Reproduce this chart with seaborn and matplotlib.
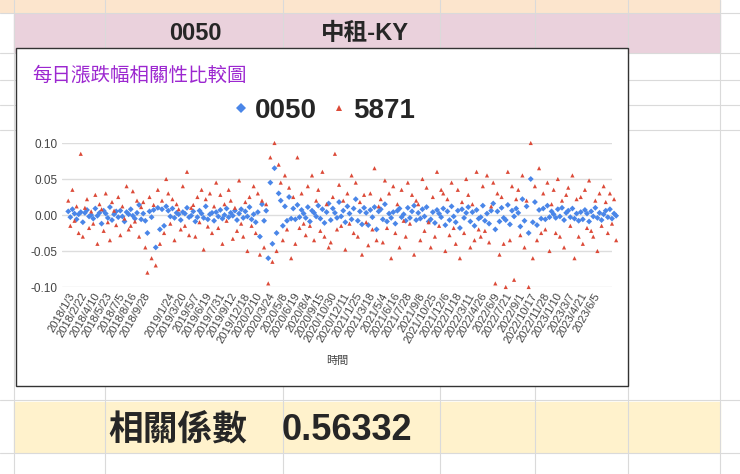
import numpy as np
import pandas as pd
import matplotlib
matplotlib.use("Agg")
import matplotlib.pyplot as plt
from matplotlib.patches import Rectangle
import seaborn as sns

tick_labels = ["2018/1/3","2018/2/22","2018/4/10","2018/5/23","2018/7/5","2018/8/16","2018/9/28","",
 "2019/1/24","2019/3/20","2019/5/7","2019/6/19","2019/7/31","2019/9/12","2019/12/18","2020/2/10","2020/3/24",
 "2020/5/8","2020/6/19","2020/8/4","2020/9/15","2020/10/30","2020/12/11","2021/1/25","2021/3/18","2021/5/4",
 "2021/6/16","2021/7/28","2021/9/8","2021/10/25","2021/12/6","2022/1/18","2022/3/11","2022/4/26","2022/6/9",
 "2022/7/21","2022/9/1","2022/10/17","2022/11/28","2023/1/10","2023/3/7","2023/4/21","2023/6/5"]

# daily returns in thousandths
s0050 = [5,-3,8,2,-6,1, 4,-10,3,7,-2,0, -5,9,-1,3,-12,6, 2,-4,11,-7,1,5, -3,6,-2,-9,4,1, 8,-1,-5,3,14,-6, 2,-8,-25,5,-3,7,
 -45,10,-20,8,-15,12,
 6,-2,9,-4,3,1, -7,4,2,10,-3,-1, 5,-9,-3,6,2,-4, 12,-6,1,3,-8,4, -2,7,-5,0,9,-3, 3,-1,6,-7,2,8, -4,5,-2,11,-6,1,
 -10,4,-30,15,-8,6, -60,45,-40,65,-25,30, 20,-15,12,-8,25,-5, 9,-6,14,-3,7,2, -4,11,-9,6,3,-2,
 13,-5,8,-11,4,16, -7,9,3,-4,18,-2, 6,-10,12,2,-6,9, 22,-8,5,-13,10,3, -14,7,-3,11,-20,5, 8,-6,15,-9,2,-4, 4,-12,6,9,-3,1,
 -8,10,-4,5,13,-7, 3,-5,8,-2,11,-9, -6,4,-11,7,2,-3, 9,-14,5,-7,12,-2, -10,6,-18,8,-4,3, 11,-9,4,-15,7,-5, -3,13,-8,2,-12,6,
 16,-20,5,-9,10,-4, -7,14,-13,6,-2,9, 3,-16,22,-8,12,-25, 50,-10,18,-14,7,-5, 9,-6,13,-3,5,1, -4,8,-2,10,-7,3, 6,-3,9,-5,2,-8,
 4,-6,7,2,-9,5, -2,10,-4,3,-7,1, 6,-3,8,-5,2,-1]
s5871 = [20,-15,35,-8,12,-25, 85,-30,10,22,-18,5, -12,28,-40,15,8,-22, 30,-10,-35,18,6,-14, 25,-28,12,-5,40,-20, -15,33,-9,20,-30,11, 18,-45,-80,25,-60,14,
 -70,35,-40,20,-25,50,
 30,-12,22,-35,15,8, -20,40,-15,60,-28,10, 14,-30,25,-10,35,-48, 22,-16,30,-25,12,45, -18,28,-40,15,-8,35, 20,-33,10,-22,48,-12, -30,18,-50,25,-15,40,
 -25,30,-55,20,-45,15, -95,80,-65,100,-50,70, 45,-35,55,-20,38,-60, 25,-40,80,-18,30,-12, -28,40,-15,55,-35,20,
 35,-22,60,-30,15,-45, -38,25,85,-20,42,-15, 20,-48,30,-12,55,-25, 45,-30,18,-55,28,-10, -42,30,-20,65,-35,12, 22,-38,48,-18,30,-60, 40,-25,15,-45,35,-8,
 -30,45,-12,28,-55,20, 15,-35,50,-22,38,-10, -45,25,-30,60,-15,35, 30,-50,22,-28,45,-18, -40,35,-60,18,-25,50, 28,-45,15,-35,60,-20, -30,40,-22,55,-38,12,
 45,-95,30,-55,25,-40, -100,60,-35,40,-90,22, 35,-28,55,-45,20,-100, 100,-60,40,-35,65,-25, 30,-20,45,-50,15,35, -25,50,-30,20,-45,28, 38,-15,55,-60,22,-30,
 25,-40,35,-18,48,-22, -30,20,-50,30,-15,40, 18,-25,30,-12,22,-35]

per_slot = 6
df = pd.concat([
    pd.DataFrame({"x": np.arange(len(s0050)), "y": np.array(s0050) / 1000, "s": "0050"}),
    pd.DataFrame({"x": np.arange(len(s5871)), "y": np.array(s5871) / 1000, "s": "5871"}),
])

sns.set_theme(style="white")
plt.rcParams["font.family"] = ["Noto Sans CJK TC", "DejaVu Sans"]
NARROW = ["Liberation Sans", "Noto Sans CJK TC"]

fig = plt.figure(figsize=(7.4, 4.74), dpi=100)
W, H = 740, 474
def R(x0, y0, x1, y1, z=0, **kw):
    fig.patches.append(Rectangle((x0 / W, 1 - y1 / H), (x1 - x0) / W, (y1 - y0) / H,
                                 transform=fig.transFigure, zorder=z, **kw))
def L(x0, y0, x1, y1):
    fig.lines.append(plt.Line2D([x0 / W, x1 / W], [1 - y0 / H, 1 - y1 / H], transform=fig.transFigure,
                                color="#dadada", lw=0.8, zorder=0.5))
R(0, 0, 740, 474, color="white", z=0)
R(0, 0, 720, 12, color="#fce5cd", z=0.2)
R(14, 14, 720, 52, color="#ead1dc", z=0.2)
R(14, 402, 720, 452, color="#fff2cc", z=0.2)
for xv in [14, 105, 283, 440, 535, 628, 720]:
    L(xv, 0, xv, 474)
for yv in [13, 53, 80, 105, 130, 400, 453]:
    L(0, yv, 740, yv)
fig.text(195 / W, 1 - 34 / H, "0050", fontsize=17, weight="bold", ha="center", va="center", family=NARROW)
fig.text(365 / W, 1 - 34 / H, "中租-KY", fontsize=17, weight="bold", ha="center", va="center", family=NARROW)
fig.text(108 / W, 1 - 430 / H, "相關係數", fontsize=25, weight="bold", ha="left", va="center")
fig.text(282 / W, 1 - 430 / H, "0.56332", fontsize=26, weight="bold", ha="left", va="center", family=NARROW)
R(16, 48, 628, 386, z=1, facecolor="white", edgecolor="#333333", lw=1.0)
fig.text(32 / W, 1 - 75 / H, "每日漲跌幅相關性比較圖", fontsize=14, color="#9c27d0", ha="left", va="center", zorder=3)

ax = fig.add_axes([62 / W, 1 - 287 / H, (612 - 62) / W, (287 - 143) / H])
ax.set_facecolor("none")
ax.set_zorder(2)
sns.scatterplot(data=df, x="x", y="y", hue="s", style="s",
                palette={"0050": "#4a86e8", "5871": "#dc4a38"},
                markers={"0050": "D", "5871": "^"}, s=9, linewidth=0, ax=ax, clip_on=False)
ax.set_ylim(-0.1, 0.1)
ax.set_xlim(-3, len(s0050) - 3)
ax.set_yticks([-0.1, -0.05, 0, 0.05, 0.1])
ax.set_yticklabels(["-0.10", "-0.05", "0.00", "0.05", "0.10"], fontsize=8.5, color="#444444", family=NARROW)
ax.yaxis.grid(True, color="#dddddd", lw=1)
ax.set_axisbelow(True)
pos = [i * per_slot for i in range(len(tick_labels))]
ax.set_xticks(pos)
ax.set_xticklabels(tick_labels, rotation=60, ha="right", rotation_mode="anchor", fontsize=8, color="#444444",
                   family=NARROW)
ax.tick_params(length=0, pad=3)
ax.set_xlabel("時間", fontsize=8, color="#444444", labelpad=8)
ax.set_ylabel("")
for sp in ax.spines.values():
    sp.set_visible(False)
h, l = ax.get_legend_handles_labels()
ax.legend(h, l, loc="center", bbox_to_anchor=(325 / W, 1 - 111 / H), bbox_transform=fig.transFigure,
          ncol=2, frameon=False, prop={"weight": "bold", "size": 20, "family": NARROW}, markerscale=1.6,
          handlelength=0.4, handletextpad=0.3, columnspacing=0.6)

fig.savefig("out.png", dpi=100)
